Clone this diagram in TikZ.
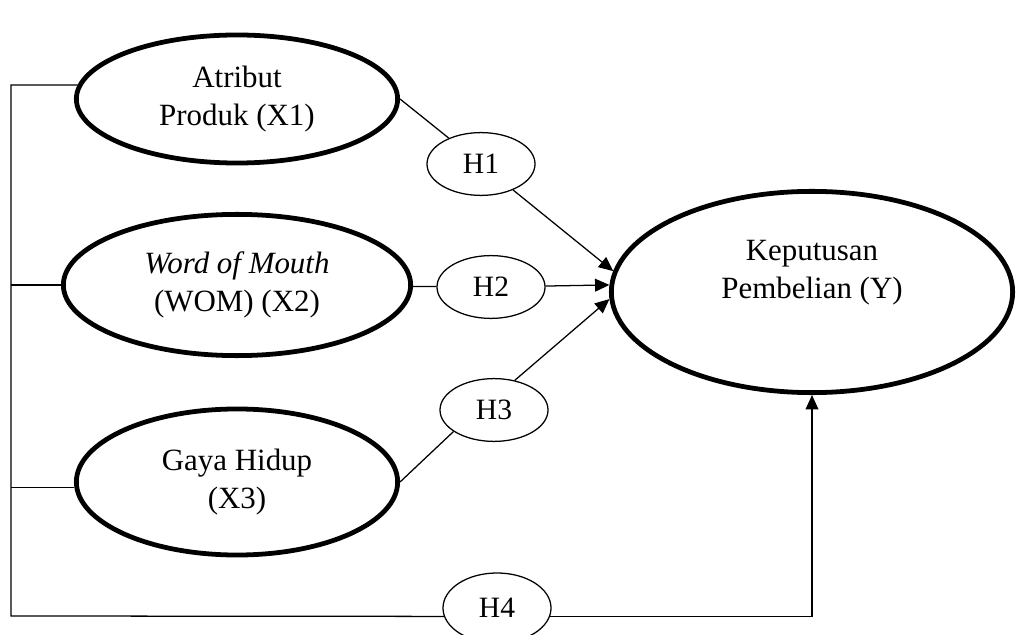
\documentclass[tikz,border=0pt]{standalone}
\usepackage{fontspec}
\setmainfont{Liberation Serif}
\usetikzlibrary{arrows.meta, shapes.geometric}

\begin{document}
\begin{tikzpicture}[x=0.025cm, y=-0.025cm]
	\tikzset{>={Triangle[length=3.6mm, width=3.2mm]},
		var/.style={ellipse, draw, line width=3.4pt, inner sep=0pt, align=center, font=\fontsize{22}{27}\selectfont},
		hyp/.style={ellipse, draw, fill=white, line width=0.9pt, inner sep=0pt, minimum width=2.7cm, minimum height=1.57cm, font=\fontsize{21}{24}\selectfont},
		link/.style={line width=0.9pt}}

	\useasboundingbox (0,0) rectangle (1018,635);

	% latent variables
	\node[var, minimum width=8.03cm, minimum height=3.2cm] (x1) at (237,99) {Atribut\\Produk (X1)};
	\node[var, minimum width=8.68cm, minimum height=3.53cm] (x2) at (237,285) {\textit{Word of Mouth}\\(WOM) (X2)};
	\node[var, minimum width=8.03cm, minimum height=3.65cm] (x3) at (237,482) {Gaya Hidup\\(X3)};
	\node[var, minimum width=10.03cm, minimum height=5.03cm] (y) at (812,292) {};
	\node[align=center, font=\fontsize{22}{27}\selectfont] (ytext) at (812,273) {Keputusan\\Pembelian (Y)};

	% hypotheses
	\node[hyp] (h1) at (481,164) {H1};
	\node[hyp] (h2) at (491,287) {H2};
	\node[hyp] (h3) at (494,410) {H3};
	\node[hyp, minimum height=1.75cm] (h4) at (497,608) {H4};

	\coordinate (bl) at (11,616);

	\draw[link] (x1.east) -- (h1);
	\draw[link, ->] (h1) -- (y.174);
	\draw[link] (x2) -- (h2);
	\draw[link, ->] (h2) -- (y.178);
	\draw[link] (x3.east) -- (h3.208);
	\draw[link, ->] (h3.55) -- (y.182);

	\draw[link] (x1.175) -| (bl) -- (h4.189);
	\draw[link] (x2.west) -- (x2.west -| bl);
	\draw[link] (x3.182) -- (x3.182 -| bl);
	\draw[link, ->] (h4.351) -| (y.south);
\end{tikzpicture}
\end{document}
